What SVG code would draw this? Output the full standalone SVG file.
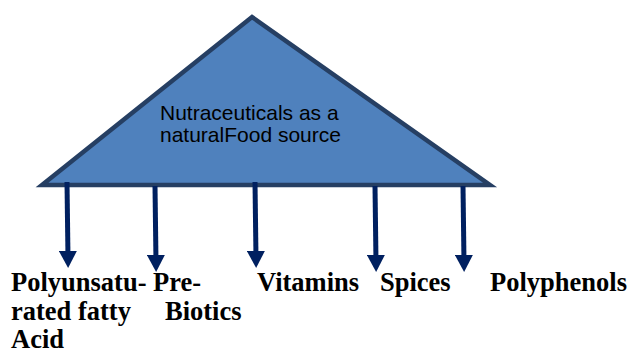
<svg xmlns="http://www.w3.org/2000/svg" width="631" height="351" viewBox="0 0 631 351">
  <style>
    .tri { fill: #4F81BD; stroke: #263F63; stroke-width: 4.5; stroke-linejoin: miter; stroke-miterlimit: 10; }
    .ttl { font-family: "Liberation Sans", Arial, sans-serif; font-size: 21px; fill: #000; }
    .lbl { font-family: "Liberation Serif", "Times New Roman", serif; font-size: 26.5px; font-weight: bold; fill: #000; }
    .arr { stroke: #002060; stroke-width: 5; fill: none; marker-end: url(#head); }
  </style>
  <defs>
    <marker id="head" markerUnits="userSpaceOnUse" markerWidth="18" markerHeight="18" refX="7" refY="9" orient="auto" viewBox="0 0 18 18">
      <path d="M0,0 L17,9 L0,18 z" fill="#002060"/>
    </marker>
  </defs>
  <g id="root">
    <polygon class="tri" points="42,185 252,17 490,185"/>
    <text class="ttl" x="160" y="120">Nutraceuticals as a</text>
    <text class="ttl" x="160" y="142">naturalFood source</text>
  </g>
  <g id="connectors">
    <line class="arr" x1="67" y1="182" x2="68" y2="258"/>
    <line class="arr" x1="155" y1="186" x2="156" y2="262"/>
    <line class="arr" x1="255" y1="182" x2="256" y2="258"/>
    <line class="arr" x1="375" y1="186" x2="376" y2="262"/>
    <line class="arr" x1="463" y1="186" x2="464" y2="262"/>
  </g>
  <g id="pufa">
    <text class="lbl" x="11" y="291">Polyunsatu-</text>
    <text class="lbl" x="11" y="320">rated fatty</text>
    <text class="lbl" x="11" y="348">Acid</text>
  </g>
  <g id="prebiotics">
    <text class="lbl" x="153" y="291">Pre-</text>
    <text class="lbl" x="165" y="320">Biotics</text>
  </g>
  <g id="vitamins">
    <text class="lbl" x="257" y="291">Vitamins</text>
  </g>
  <g id="spices">
    <text class="lbl" x="380" y="291">Spices</text>
  </g>
  <g id="polyphenols">
    <text class="lbl" x="490" y="291">Polyphenols</text>
  </g>
</svg>
